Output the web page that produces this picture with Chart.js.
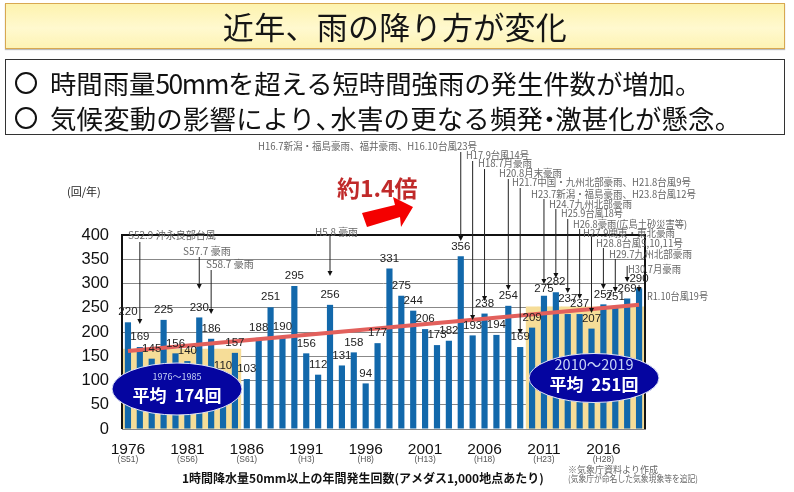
<!DOCTYPE html>
<html lang="ja">
<head>
<meta charset="utf-8">
<script src="https://cdn.jsdelivr.net/npm/chart.js@4"></script>
<style>
html,body{margin:0;padding:0;background:#fff;}
body{width:794px;height:492px;position:relative;overflow:hidden;font-family:"Noto Sans CJK JP",sans-serif;}
#c{position:absolute;left:0;top:0;width:794px;height:492px;}
.title{position:absolute;left:5px;top:3px;width:778px;height:44px;box-sizing:content-box;border:1.5px solid #d8a850;
 background:linear-gradient(#fdf3ae,#fff9cf 55%,#fdf3b4);box-shadow:0 1px 1px #bbb;color:#151515;
 text-align:center;font-size:31px;line-height:44px;letter-spacing:.3px;}
.box{position:absolute;left:5px;top:59px;width:778px;height:74px;border:1.5px solid #333;background:#fff;}
.ln{position:absolute;left:50px;font-size:26.4px;line-height:34px;color:#111;white-space:nowrap;}
.ci{position:absolute;left:15px;width:22px;height:22px;box-sizing:border-box;border:2.5px solid #111;border-radius:50%;}
.nm{letter-spacing:-1.4px;}
.na{display:inline-block;width:15px;}
.nb{display:inline-block;width:12px;text-indent:-7px;overflow:visible;}
</style>
</head>
<body>
<canvas id="c" width="794" height="492"></canvas>
<div class="title">近年、雨の降り方が変化</div>
<div class="box"></div>
<div class="ci" style="top:72px"></div>
<div class="ln" style="top:66px;letter-spacing:-.05px">時間雨量<span class="nm">50mm</span>を超える短時間強雨の発生件数が増加。</div>
<div class="ci" style="top:107px"></div>
<div class="ln" style="top:101px;letter-spacing:.2px">気候変動の影響により<span class="na">、</span>水害の更なる頻発<span class="nb">・</span>激甚化が懸念。</div>
<script>
const years = ['1976','1977','1978','1979','1980','1981','1982','1983','1984','1985','1986','1987','1988','1989','1990','1991','1992','1993','1994','1995','1996','1997','1998','1999','2000','2001','2002','2003','2004','2005','2006','2007','2008','2009','2010','2011','2012','2013','2014','2015','2016','2017','2018','2019'];
const counts = [220,169,145,225,156,140,230,186,110,157,103,188,251,190,295,156,112,256,131,158,94,177,331,275,244,206,173,182,356,193,238,194,254,169,209,275,282,237,237,207,257,251,269,290];
const bandEarly = [165,165,165,165,165,165,165,165,165,165];
const bandLate = [252,252,252,252,252,252,252,252,252,252];
const trendStart = 161;
const trendEnd = 256;
const yTicks = [0,50,100,150,200,250,300,350,400];
const eras = {'1976':'(S51)','1981':'(S56)','1986':'(S61)','1991':'(H3)','1996':'(H8)','2001':'(H13)','2006':'(H18)','2011':'(H23)','2016':'(H28)'};
const labelLift = {'2011':7,'2013':15};

// event notes: text, left edge, middle line, text width, then the arrow (year, start pixel, tip pixel)
const notes = [
 ['S52.9 沖永良部台風',128,235,88,'1977',242,324],
 ['S57.7 豪雨',183,251,49,'1982',257,289],
 ['S58.7 豪雨',206,264,48,'1983',270,314],
 ['H5.8 豪雨',315,232,43,'1993',236,276],
 ['H16.7新潟・福島豪雨、福井豪雨、H16.10台風23号',258,146,219,'2004',152,241],
 ['H17.9台風14号',466,155,63,'2005',161,320],
 ['H18.7月豪雨',478,163,54,'2006',169,301],
 ['H20.8月末豪雨',499,173,63,'2008',179,290],
 ['H21.7中国・九州北部豪雨、H21.8台風9号',512,182,179,'2009',188,334],
 ['H23.7新潟・福島豪雨、H23.8台風12号',531,194,165,'2011',199,284],
 ['H24.7九州北部豪雨',549,204,83,'2012',209,278],
 ['H25.9台風18号',561,213,62,'2013',219,293],
 ['H26.8豪雨(広島土砂災害等)',573,224,114,'2014',229,299],
 ['H27.9関東・東北豪雨',583,233,92,'2015',237,313],
 ['H28.8台風9,10,11号',596,243,87,'2016',248,289],
 ['H29.7九州北部豪雨',609,254,83,'2017',259,292],
 ['H30.7月豪雨',628,269,53,'2018',266,282],
 ['R1.10台風19号',647,296,61,'2019',285,292]
];

const trend = years.map(()=>null);
trend[0] = trendStart; trend[years.length-1] = trendEnd;
const band = years.map((y,i)=> i<bandEarly.length ? bandEarly[i] : (i>=years.length-bandLate.length ? bandLate[i-(years.length-bandLate.length)] : null));

const overlay = {
 id:'overlay',
 afterDatasetsDraw(ch){
  const {ctx,chartArea:a,scales:{x,y}}=ch;
  ctx.save();
  // frame
  ctx.strokeStyle='#111';ctx.lineWidth=2;
  ctx.beginPath();ctx.moveTo(a.left,a.bottom);ctx.lineTo(a.left,a.top);ctx.lineTo(a.right,a.top);ctx.lineTo(a.right,a.bottom);ctx.stroke();
  // value labels
  ctx.font='11.5px "Liberation Sans"';ctx.fillStyle='#222';ctx.textAlign='center';ctx.textBaseline='middle';
  counts.forEach((v,i)=>{
    const lift=labelLift[years[i]]||10;
    ctx.fillText(String(v),x.getPixelForValue(i),y.getPixelForValue(v)-lift);
  });
  // notes + arrows
  notes.forEach(([t,tx,ty,tw,yr,from,to])=>{
    const px=x.getPixelForValue(years.indexOf(yr));
    ctx.strokeStyle='#222';ctx.lineWidth=1;
    ctx.beginPath();ctx.moveTo(px,from);ctx.lineTo(px,to-3);ctx.stroke();
    ctx.fillStyle='#111';ctx.beginPath();ctx.moveTo(px,to);ctx.lineTo(px-2.5,to-5);ctx.lineTo(px+2.5,to-5);ctx.closePath();ctx.fill();
    ctx.font='10px "Noto Sans CJK JP"';ctx.fillStyle='#666';ctx.textAlign='left';ctx.textBaseline='middle';
    ctx.fillText(t,tx,ty,tw);
  });
  // average ellipses
  const ell=(cx,cy,rx,ry,sub,subFont,subY,main,mainY)=>{
    ctx.beginPath();ctx.ellipse(cx,cy,rx,ry,0,0,Math.PI*2);ctx.fillStyle='#0505a0';ctx.fill();
    ctx.strokeStyle='#dfe6f7';ctx.lineWidth=1;ctx.stroke();
    ctx.textAlign='center';ctx.textBaseline='middle';
    ctx.fillStyle='#c8d4f5';ctx.font=subFont;ctx.fillText(sub,cx,subY);
    ctx.fillStyle='#fff';ctx.font='bold 17px "Noto Sans CJK JP"';ctx.fillText(main,cx,mainY);
  };
  ell(177,389,65,26,'1976〜1985','9px "Noto Sans CJK JP"',377,'平均  174回',396);
  ell(594,378,65,24.5,'2010〜2019','14.5px "Noto Sans CJK JP"',364,'平均  251回',385);
  // big arrow and multiplier
  ctx.fillStyle='#f40000';
  ctx.beginPath();
  [[362,213],[367,227],[400,217],[401,227],[413,207],[393,197],[395,205]].forEach((p,i)=>i?ctx.lineTo(p[0],p[1]):ctx.moveTo(p[0],p[1]));
  ctx.closePath();ctx.fill();
  ctx.fillStyle='#c02a2a';ctx.font='bold 23px "Noto Sans CJK JP"';ctx.textAlign='left';ctx.textBaseline='middle';
  ctx.fillText('約1.4倍',337,188);
  // other text
  ctx.fillStyle='#222';ctx.font='11px "Noto Sans CJK JP"';ctx.fillText('(回/年)',67,192);
  ctx.fillStyle='#111';ctx.font='bold 12px "Noto Sans CJK JP"';ctx.fillText('1時間降水量50mm以上の年間発生回数(アメダス1,000地点あたり)',182,478,368);
  ctx.fillStyle='#666';ctx.font='9px "Noto Sans CJK JP"';
  ctx.fillText('※気象庁資料より作成',568,470);
  ctx.fillText('(気象庁が命名した気象現象等を追記)',568,479,130);
  // era labels
  ctx.fillStyle='#555';ctx.font='8.5px "Liberation Sans"';ctx.textAlign='center';
  Object.keys(eras).forEach(k=>ctx.fillText(eras[k],x.getPixelForValue(years.indexOf(k)),460));
  ctx.restore();
 }
};

new Chart(document.getElementById('c'),{
 data:{labels:years,datasets:[
  {type:'line',data:trend,spanGaps:true,borderColor:'#e2605c',borderWidth:4,pointRadius:0,order:1},
  {type:'bar',data:counts,backgroundColor:'#1268ab',barPercentage:.52,categoryPercentage:1,grouped:false,order:2},
  {type:'bar',data:band,backgroundColor:'#f6dd98',barPercentage:1,categoryPercentage:1,grouped:false,order:3}
 ]},
 options:{
  responsive:false,animation:false,devicePixelRatio:1,
  layout:{padding:{left:0,right:149,top:235,bottom:0}},
  plugins:{legend:{display:false},tooltip:{enabled:false}},
  scales:{
   x:{grid:{display:false},border:{color:'#888'},
      afterFit(s){s.height=63;},
      ticks:{autoSkip:false,maxRotation:0,padding:3,color:'#111',font:{family:'"Liberation Sans"',size:15.5},
        callback(v,i){return i%5===0?years[i]:'';}}},
   y:{min:0,max:400,grid:{color:'#888',lineWidth:1,tickLength:0},border:{display:false},
      afterFit(s){s.width=122;},
      afterBuildTicks(s){s.ticks=yTicks.map(v=>({value:v}));},
      ticks:{padding:13,color:'#111',font:{family:'"Liberation Sans"',size:16.5}}}
  }
 },
 plugins:[overlay]
});
</script>
</body>
</html>
